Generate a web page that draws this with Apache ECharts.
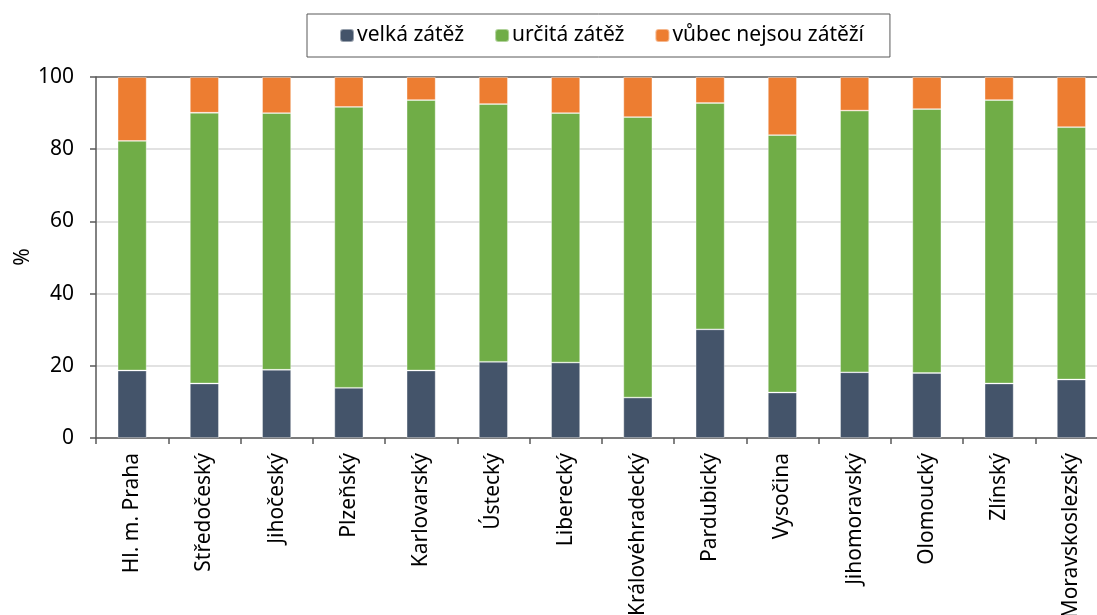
<!DOCTYPE html>
<html>
<head>
<meta charset="utf-8">
<script src="https://cdn.jsdelivr.net/npm/echarts@6/dist/echarts.min.js"></script>
<style>
  html, body { margin: 0; padding: 0; background: #fff; }
  #chart { width: 1097px; height: 615px; }
</style>
</head>
<body>
<div id="chart"></div>
<script>
const regions = ['Hl. m. Praha', 'Středočeský', 'Jihočeský', 'Plzeňský', 'Karlovarský', 'Ústecký', 'Liberecký',
  'Královéhradecký', 'Pardubický', 'Vysočina', 'Jihomoravský', 'Olomoucký', 'Zlínský', 'Moravskoslezský']
const velka = [18.7, 15.1, 18.9, 13.9, 18.7, 21.1, 20.9, 11.2, 30.1, 12.6, 18.2, 18.0, 15.1, 16.2]
const urcita = [63.6, 75.0, 71.1, 77.8, 74.9, 71.4, 69.1, 77.7, 62.7, 71.3, 72.5, 73.1, 78.5, 69.9]
const vubec = [17.7, 9.9, 10.0, 8.3, 6.4, 7.5, 10.0, 11.1, 7.2, 16.1, 9.3, 8.9, 6.4, 13.9]
const seriesNames = ['velká zátěž', 'určitá zátěž', 'vůbec nejsou zátěží']
const colors = ['#44546A', '#70AD47', '#ED7D31']

const font = 'Noto Sans'
const chart = echarts.init(document.getElementById('chart'))

function barSeries(name, data, color) {
  return {
    name,
    type: 'bar',
    stack: 'total',
    data,
    barWidth: 29,
    itemStyle: { color, borderColor: 'rgba(255,255,255,0.45)', borderWidth: 0.8 },
    emphasis: { disabled: true },
  }
}

chart.setOption({
  animation: false,
  color: colors,
  textStyle: { fontFamily: font },
  legend: {
    top: 14,
    left: 307,
    padding: [11, 26, 11, 32],
    itemWidth: 14,
    itemHeight: 13,
    itemGap: 30,
    borderColor: '#595959',
    borderWidth: 1,
    textStyle: { fontFamily: font, fontSize: 21, color: '#000', padding: [0, 0, 0, -2] },
    data: seriesNames,
  },
  // y axis title, placed by hand
  graphic: [
    {
      type: 'text',
      x: 23,
      y: 257,
      rotation: Math.PI / 2,
      style: { text: '%', fontSize: 21, fontFamily: font, fill: '#000', align: 'center', verticalAlign: 'middle' },
    },
  ],
  grid: { left: 96, right: -10.5, top: 77, bottom: 177, containLabel: false, outerBoundsMode: 'none' },
  xAxis: {
    type: 'category',
    data: regions,
    axisLine: { lineStyle: { color: '#595959', width: 1.5 } },
    axisTick: { show: true, length: 6, lineStyle: { color: '#595959', width: 1.5 } },
    axisLabel: { rotate: 90, margin: 15, fontSize: 21, color: '#000', fontFamily: font, interval: 0 },
  },
  yAxis: {
    type: 'value',
    min: 0,
    max: 100,
    interval: 20,
    axisLine: { show: true, lineStyle: { color: '#595959', width: 1.5 } },
    axisTick: { show: true, length: 6, lineStyle: { color: '#595959', width: 1.5 } },
    axisLabel: { margin: 22, fontSize: 21, color: '#000', fontFamily: font },
    splitLine: {
      lineStyle: { color: ['#d9d9d9', '#d9d9d9', '#d9d9d9', '#d9d9d9', '#d9d9d9', '#595959'], width: 1.5 },
    },
  },
  series: [
    barSeries(seriesNames[0], velka, colors[0]),
    barSeries(seriesNames[1], urcita, colors[1]),
    barSeries(seriesNames[2], vubec, colors[2]),
  ],
})
</script>
</body>
</html>
